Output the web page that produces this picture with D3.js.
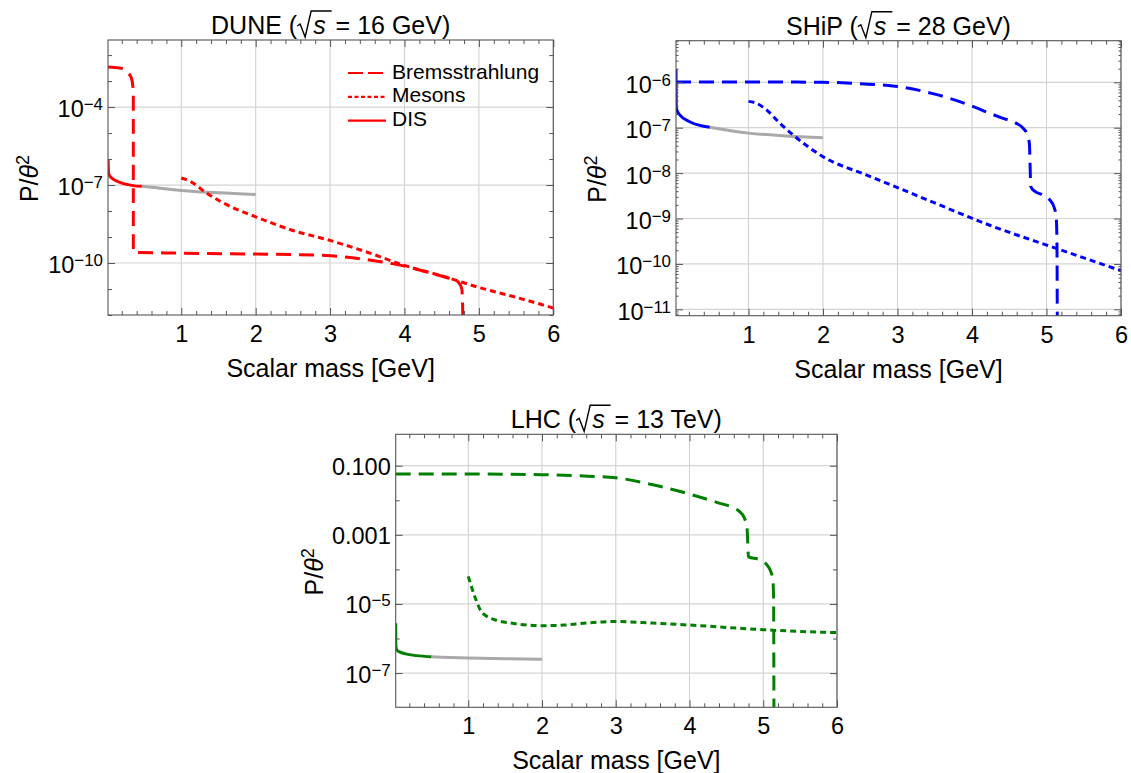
<!DOCTYPE html>
<html><head><meta charset="utf-8">
<script src="https://cdn.jsdelivr.net/npm/d3@7"></script>
<style>
body{margin:0;background:#fff}
svg{font-family:"Liberation Sans",Arial,Helvetica,sans-serif}
</style>
</head><body>
<svg id="chart" width="1131" height="773"></svg>
<script>
// ---------- shared tick data ----------
const massTicks = [1, 2, 3, 4, 5, 6];
const massMinorTicks = d3.range(0.2, 6.01, 0.2).map(v => +v.toFixed(1));
const legendLabels = ["Bremsstrahlung", "Mesons", "DIS"];

// ---------- DUNE (sqrt s = 16 GeV) ----------
const duneBrems = [[0.015,3.5e-3],[0.17,3.2e-3],[0.25,2.6e-3],[0.29,2.0e-3],[0.33,1.3e-3],[0.35,6e-4],[0.355,3e-4],[0.3555,2.6e-10],[1,2.4e-10],[2,2.2e-10],[2.5,2.1e-10],[3,1.9e-10],[3.5,1.35e-10],[4,7.6e-11],[4.34,4.2e-11],[4.6,2.6e-11],[4.7,2.1e-11],[4.74,1.6e-11],[4.77,1.0e-11],[4.78,3.2e-12],[4.785,6e-13]];
const duneMesons = [[1,1.86e-7],[1.12,1.38e-7],[1.34,4.9e-8],[1.7,1.32e-8],[2,6.0e-9],[2.5,1.78e-9],[3,7.4e-10],[3.5,2.6e-10],[4,8.1e-11],[4.5,3.2e-11],[5,1.15e-11],[5.5,4.8e-12],[6,1.86e-12]];
const duneDIS = [[0.016,9.3e-7],[0.02,4e-7],[0.024,2.7e-7],[0.064,1.86e-7],[0.176,1.26e-7],[0.355,9.5e-8],[0.47,8.9e-8]];
const duneDISext = [[0.47,8.9e-8],[1,6.2e-8],[1.5,5.0e-8],[2,4.3e-8]];
const duneYTicks = [1e-4, 1e-7, 1e-10];
const duneYLabels = ["10^−4", "10^−7", "10^−10"];

// ---------- SHiP (sqrt s = 28 GeV) ----------
const shipBrems = [[0.027,1.02e-6],[1,1.02e-6],[2,1.0e-6],[2.5,9.3e-7],[3,8.1e-7],[3.5,5.5e-7],[4,3.0e-7],[4.23,2.1e-7],[4.41,1.62e-7],[4.59,1.26e-7],[4.68,1.0e-7],[4.74,7.1e-8],[4.77,4.5e-8],[4.79,5.0e-9],[4.84,4.0e-9],[4.95,3.3e-9],[5.05,2.5e-9],[5.1,1.8e-9],[5.13,1.1e-9],[5.14,3.2e-10],[5.145,5e-12]];
const shipMesons = [[1,3.8e-7],[1.1,3.5e-7],[1.25,2.4e-7],[1.42,1.26e-7],[1.6,6.9e-8],[2,2.3e-8],[2.58,9.1e-9],[3,4.8e-9],[3.5,2.2e-9],[4.23,7.2e-10],[5.13,2.2e-10],[6,7.1e-11]];
const shipDIS = [[0.027,1.95e-6],[0.03,2.9e-7],[0.045,2.3e-7],[0.08,1.9e-7],[0.21,1.35e-7],[0.48,1.02e-7]];
const shipDISext = [[0.48,1.02e-7],[1,7.6e-8],[1.5,6.6e-8],[2,6.0e-8]];
const shipYTicks = [1e-6, 1e-7, 1e-8, 1e-9, 1e-10, 1e-11];
const shipYLabels = ["10^−6", "10^−7", "10^−8", "10^−9", "10^−10", "10^−11"];

// ---------- LHC (sqrt s = 13 TeV) ----------
const lhcBrems = [[0.016,0.0575],[1,0.0575],[2,0.055],[2.5,0.051],[3,0.0447],[3.5,0.0282],[4,0.0151],[4.4,0.0083],[4.6,0.006],[4.68,0.0047],[4.74,0.0032],[4.78,0.00158],[4.8,2.3e-4],[4.95,1.9e-4],[5.05,1.35e-4],[5.1,8.9e-5],[5.13,5e-5],[5.14,1.6e-5],[5.145,8e-9]];
const lhcMesons = [[1,6.3e-5],[1.1,1.4e-5],[1.17,6.3e-6],[1.25,4.4e-6],[1.4,3.3e-6],[1.6,2.75e-6],[2,2.35e-6],[2.3,2.45e-6],[2.6,2.8e-6],[3,3.1e-6],[3.5,2.8e-6],[4,2.45e-6],[4.5,2.1e-6],[5,1.8e-6],[5.5,1.6e-6],[6,1.48e-6]];
const lhcDIS = [[0.016,2.75e-6],[0.018,6.3e-7],[0.03,4.7e-7],[0.07,4.1e-7],[0.15,3.6e-7],[0.3,3.2e-7],[0.5,2.95e-7]];
const lhcDISext = [[0.5,2.95e-7],[1,2.75e-7],[1.5,2.6e-7],[2,2.5e-7]];
const lhcYTicks = [0.1, 0.001, 1e-5, 1e-7];
const lhcYLabels = ["0.100", "0.001", "10^−5", "10^−7"];

// ---------- drawing ----------
const svg = d3.select("#chart");
const FRAME = "#555";
const GRID = "#d4d4d4";
const GRAY = "#a9a9a9";
const DASH_B = "15,8", DASH_M = "6,4";
const TICKFS = 23.5, TITLEFS = 25;

function decades(lo, hi){ const a=[]; for(let k=Math.ceil(Math.log10(lo)-1e-9);k<=Math.floor(Math.log10(hi)+1e-9);k++) a.push(Math.pow(10,k)); return a; }
function subDecades(lo, hi){ const a=[]; for(let k=Math.floor(Math.log10(lo));k<=Math.ceil(Math.log10(hi));k++) for(let m=2;m<=9;m++){const v=m*Math.pow(10,k); if(v>=lo&&v<=hi) a.push(v);} return a; }

function setLabel(textSel, label, fs){
  textSel.text(null);
  const parts = label.split("^");
  textSel.append("tspan").text(parts[0]);
  if(parts.length>1) textSel.append("tspan").attr("font-size", fs*0.72).attr("dy", -7).text(parts[1]);
}

function panel(cfg){
  const g = svg.append("g");
  const x = d3.scaleLinear().domain(cfg.xDom).range([cfg.l, cfg.r]);
  const y = d3.scaleLog().domain(cfg.yDom).range([cfg.b, cfg.t]);
  const [ylo, yhi] = cfg.yDom;

  // grid
  g.append("g").selectAll("line").data(massTicks).join("line")
    .attr("x1", d=>x(d)).attr("x2", d=>x(d)).attr("y1", cfg.t).attr("y2", cfg.b)
    .attr("stroke", GRID).attr("stroke-width", 1.2);
  g.append("g").selectAll("line").data(cfg.yTicks).join("line")
    .attr("x1", cfg.l).attr("x2", cfg.r).attr("y1", d=>y(d)).attr("y2", d=>y(d))
    .attr("stroke", GRID).attr("stroke-width", 1.2);

  // series
  const cid = "clip-" + cfg.name;
  svg.append("clipPath").attr("id", cid).append("rect")
    .attr("x", cfg.l).attr("y", cfg.t).attr("width", cfg.r-cfg.l).attr("height", cfg.b-cfg.t);
  const sg = g.append("g").attr("clip-path", `url(#${cid})`);
  const line = d3.line().x(d=>x(d[0])).y(d=>y(d[1])).curve(d3.curveMonotoneX);
  const series = [
    {d: cfg.disExt, c: GRAY, dash: null},
    {d: cfg.dis, c: cfg.color, dash: null},
    {d: cfg.mesons, c: cfg.color, dash: DASH_M},
    {d: cfg.brems, c: cfg.color, dash: DASH_B}
  ];
  sg.selectAll("path").data(series).join("path")
    .attr("d", s=>line(s.d)).attr("fill","none")
    .attr("stroke", s=>s.c).attr("stroke-width", 3)
    .attr("stroke-dasharray", s=>s.dash);

  // inward ticks via axes
  const tk = (axis, tx, ty, vals, size) => {
    const a = g.append("g").attr("transform", `translate(${tx},${ty})`)
      .call(axis.tickValues(vals).tickSize(size).tickFormat(""));
    a.select(".domain").remove();
    a.selectAll("line").attr("stroke", FRAME).attr("stroke-width", 1);
  };
  const minorX = massMinorTicks.filter(v=>!massTicks.includes(v) && x(v) > cfg.l+1);
  tk(d3.axisTop(x), 0, cfg.b, massTicks, 7);
  tk(d3.axisTop(x), 0, cfg.b, minorX, 4);
  tk(d3.axisBottom(x), 0, cfg.t, massTicks, 7);
  tk(d3.axisBottom(x), 0, cfg.t, minorX, 4);
  const dec = decades(ylo, yhi).filter(v=>!cfg.yTicks.includes(v));
  tk(d3.axisRight(y), cfg.l, 0, cfg.yTicks, 7);
  tk(d3.axisRight(y), cfg.l, 0, dec, 4);
  tk(d3.axisLeft(y), cfg.r, 0, cfg.yTicks, 7);
  tk(d3.axisLeft(y), cfg.r, 0, dec, 4);
  if(cfg.subMinor){
    const sm = subDecades(ylo, yhi);
    tk(d3.axisRight(y), cfg.l, 0, sm, 2.5);
    tk(d3.axisLeft(y), cfg.r, 0, sm, 2.5);
  }

  // frame
  g.append("rect").attr("x", cfg.l).attr("y", cfg.t).attr("width", cfg.r-cfg.l).attr("height", cfg.b-cfg.t)
    .attr("fill","none").attr("stroke", FRAME).attr("stroke-width", 1.1);

  // tick labels
  const xl = g.append("g").attr("transform", `translate(0,${cfg.b})`)
    .call(d3.axisBottom(x).tickValues(massTicks).tickSize(0).tickFormat(d3.format("d")));
  xl.select(".domain").remove();
  xl.selectAll("text").attr("y", 27).attr("dy", null).attr("font-size", TICKFS).attr("fill","#000")
    .attr("font-family", '"Liberation Sans",Arial,sans-serif');
  const yl = g.append("g").attr("transform", `translate(${cfg.l},0)`)
    .call(d3.axisLeft(y).tickValues(cfg.yTicks).tickSize(0));
  yl.select(".domain").remove();
  yl.selectAll("text").each(function(d){
    const i = cfg.yTicks.indexOf(d);
    const t = d3.select(this).attr("x", -5).attr("dy", null).attr("y", cfg.labelDy)
      .attr("font-size", TICKFS).attr("fill","#000").attr("font-family", '"Liberation Sans",Arial,sans-serif');
    setLabel(t, cfg.yLabels[i], TICKFS);
  });

  // axis titles
  g.append("text").attr("x", (cfg.l+cfg.r)/2).attr("y", cfg.b+62).attr("text-anchor","middle")
    .attr("font-size", TITLEFS).text("Scalar mass [GeV]");
  const yt = g.append("text").attr("transform", `translate(${cfg.yTitleX},${(cfg.t+cfg.b)/2+1}) rotate(-90)`)
    .attr("text-anchor","middle").attr("font-size", TITLEFS);
  yt.append("tspan").text("P/");
  yt.append("tspan").attr("font-style","italic").text("θ");
  yt.append("tspan").attr("font-size", 18).attr("dy", -9).text("2");

  // title with radical
  const base = cfg.t - 6;
  const tt = g.append("text").attr("x", (cfg.l+cfg.r)/2).attr("y", base).attr("text-anchor","middle").attr("font-size", TITLEFS);
  tt.append("tspan").text(cfg.titlePre);
  tt.append("tspan").attr("dx", 16).attr("font-style","italic").text("s");
  tt.append("tspan").attr("dx", 3).text(cfg.titlePost);
  const n = cfg.titlePre.length, node = tt.node();
  const s0 = node.getStartPositionOfChar(n).x, s1 = node.getEndPositionOfChar(n).x;
  const xr = s0 - 16;
  g.append("path").attr("d", `M${xr},${base-8} L${xr+3},${base-10} L${xr+8},${base+3} L${xr+14},${base-23} L${s1+6},${base-23}`)
    .attr("fill","none").attr("stroke","#000").attr("stroke-width",1.4).attr("stroke-linejoin","miter");

  // legend
  if(cfg.legend){
    const lg = g.append("g");
    legendLabels.forEach((lab, i) => {
      const by = 78.5 + i*23.8;
      lg.append("line").attr("x1", 348).attr("x2", 386).attr("y1", by-5.5).attr("y2", by-5.5)
        .attr("stroke", cfg.color).attr("stroke-width", 2.2).attr("stroke-dasharray", i===0 ? "15,5" : (i===1 ? "4,2.5" : null));
      lg.append("text").attr("x", 392).attr("y", by).attr("font-size", 21).text(lab);
    });
  }
}

panel({name:"dune", l:108, r:553.3, t:40, b:315, xDom:[0.015,6], yDom:[1e-12, Math.pow(10,-1.42)],
  yTicks: duneYTicks, yLabels: duneYLabels, labelDy: 9, color:"#ff0000",
  brems: duneBrems, mesons: duneMesons, dis: duneDIS, disExt: duneDISext,
  yTitleX: 38, titlePre:"DUNE (", titlePost:" = 16 GeV)", legend:true, subMinor:false});

panel({name:"ship", l:676, r:1121, t:40.7, b:315.7, xDom:[0.027,6], yDom:[Math.pow(10,-11.14), Math.pow(10,-5.084)],
  yTicks: shipYTicks, yLabels: shipYLabels, labelDy: 10, color:"#0000ff",
  brems: shipBrems, mesons: shipMesons, dis: shipDIS, disExt: shipDISext,
  yTitleX: 606, titlePre:"SHiP (", titlePost:" = 28 GeV)", legend:false, subMinor:true});

panel({name:"lhc", l:395.7, r:837, t:434.3, b:707.3, xDom:[0.016,6], yDom:[Math.pow(10,-7.99), Math.pow(10,-0.091)],
  yTicks: lhcYTicks, yLabels: lhcYLabels, labelDy: 9, color:"#007f00",
  brems: lhcBrems, mesons: lhcMesons, dis: lhcDIS, disExt: lhcDISext,
  yTitleX: 323, titlePre:"LHC (", titlePost:" = 13 TeV)", legend:false, subMinor:false});
</script>
</body></html>
